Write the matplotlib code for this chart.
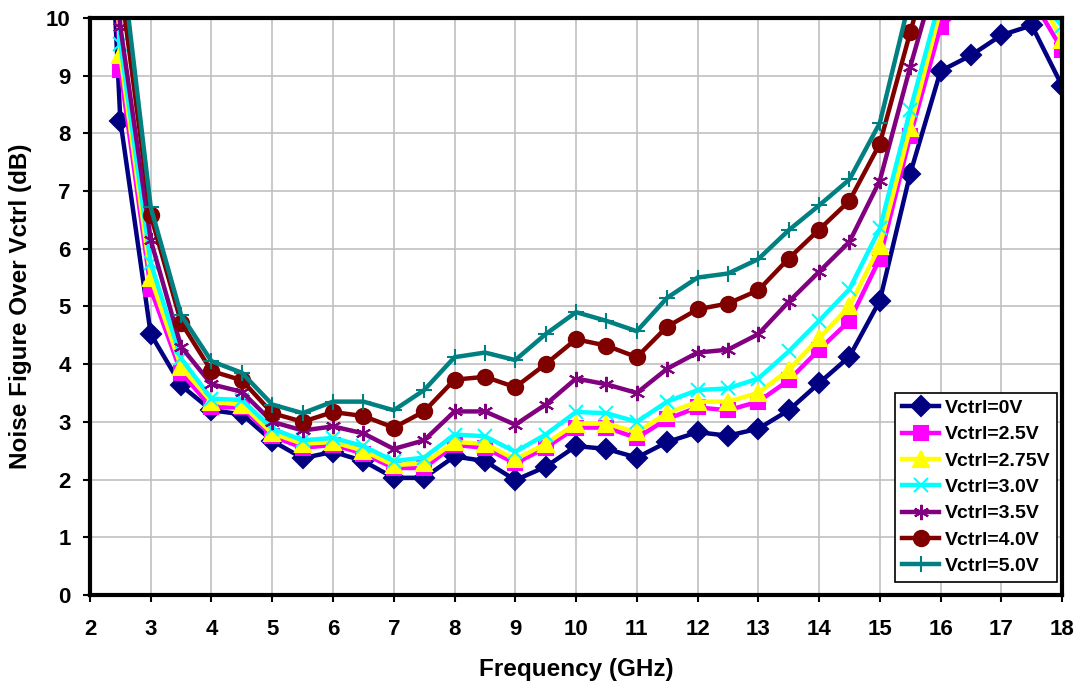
import matplotlib
matplotlib.use("Agg")
import matplotlib.pyplot as plt
import numpy as np

plt.rcParams['font.family'] = ['Liberation Sans', 'DejaVu Sans']

freq = [2.0, 2.5, 3.0, 3.5, 4.0, 4.5, 5.0, 5.5, 6.0, 6.5, 7.0, 7.5, 8.0, 8.5, 9.0, 9.5,
        10.0, 10.5, 11.0, 11.5, 12.0, 12.5, 13.0, 13.5, 14.0, 14.5, 15.0, 15.5,
        16.0, 16.5, 17.0, 17.5, 18.0]

nf_0v = [19.0, 8.22, 4.52, 3.63, 3.20, 3.13, 2.67, 2.37, 2.48, 2.32, 2.03, 2.03, 2.40, 2.32,
         1.99, 2.22, 2.58, 2.53, 2.38, 2.65, 2.82, 2.76, 2.88, 3.20, 3.67, 4.13, 5.10,
         7.30, 9.08, 9.35, 9.70, 9.87, 8.82]
nf_2p5v = [20.0, 9.10, 5.30, 3.85, 3.25, 3.25, 2.75, 2.55, 2.60, 2.45, 2.20, 2.20, 2.60, 2.55,
           2.28, 2.55, 2.90, 2.90, 2.72, 3.05, 3.25, 3.20, 3.35, 3.72, 4.25, 4.75, 5.83,
           7.95, 9.85, 10.30, 10.50, 10.34, 9.45]
nf_2p75v = [20.0, 9.35, 5.50, 3.95, 3.35, 3.30, 2.80, 2.62, 2.65, 2.50, 2.25, 2.28, 2.65, 2.62,
            2.35, 2.62, 2.97, 2.97, 2.82, 3.15, 3.35, 3.35, 3.50, 3.90, 4.45, 5.00, 6.05,
            8.10, 10.15, 10.60, 10.80, 10.57, 9.62]
nf_3p0v = [21.0, 9.55, 5.75, 4.10, 3.40, 3.38, 2.88, 2.68, 2.72, 2.58, 2.32, 2.38, 2.78, 2.75,
           2.48, 2.78, 3.17, 3.15, 3.00, 3.35, 3.55, 3.58, 3.75, 4.22, 4.75, 5.30, 6.35,
           8.40, 10.35, 10.80, 11.00, 10.47, 9.86]
nf_3p5v = [21.0, 9.85, 6.15, 4.30, 3.65, 3.52, 3.00, 2.85, 2.92, 2.80, 2.53, 2.68, 3.18, 3.18,
           2.95, 3.30, 3.75, 3.65, 3.50, 3.92, 4.20, 4.25, 4.52, 5.08, 5.60, 6.12, 7.18,
           9.15, 11.00, 11.50, 11.80, 11.60, 10.80]
nf_4p0v = [22.0, 10.60, 6.58, 4.72, 3.88, 3.72, 3.15, 3.00, 3.17, 3.10, 2.90, 3.18, 3.73, 3.78,
           3.60, 4.00, 4.43, 4.32, 4.12, 4.65, 4.95, 5.05, 5.28, 5.83, 6.33, 6.83, 7.82,
           9.75, 11.60, 12.00, 12.30, 12.10, 11.20]
nf_5p0v = [22.0, 11.20, 6.72, 4.85, 4.05, 3.85, 3.30, 3.15, 3.35, 3.35, 3.20, 3.55, 4.12, 4.20,
           4.07, 4.52, 4.90, 4.75, 4.57, 5.15, 5.50, 5.57, 5.82, 6.32, 6.75, 7.20, 8.18,
           10.35, 12.20, 12.60, 12.80, 12.60, 11.60]

labels = ['Vctrl=0V', 'Vctrl=2.5V', 'Vctrl=2.75V', 'Vctrl=3.0V', 'Vctrl=3.5V', 'Vctrl=4.0V', 'Vctrl=5.0V']
series = [nf_0v, nf_2p5v, nf_2p75v, nf_3p0v, nf_3p5v, nf_4p0v, nf_5p0v]
colors = ['#000080', '#FF00FF', '#FFFF00', '#00FFFF', '#800080', '#800000', '#008080']
markers = ['D', 's', '^', 'x', (6, 2, 0), 'o', '+']
msizes = [10.5, 10, 11, 10, 11, 11, 11]

fig = plt.figure(figsize=(10.88, 6.87), dpi=100)
ax = fig.add_axes([0.0827, 0.134, 0.8935, 0.840])

for y, lab, c, m, ms in zip(series, labels, colors, markers, msizes):
    ax.plot(freq, y, color=c, lw=3.2, marker=m, markersize=ms,
            markeredgewidth=1.5, markerfacecolor=c, markeredgecolor=c, label=lab,
            clip_on=True)

ax.set_xlim(2, 18)
ax.set_ylim(0, 10)
ax.set_xticks(np.arange(2, 19, 1))
ax.set_yticks(np.arange(0, 11, 1))
ax.grid(True, color='#c0c0c0', lw=1.2)
ax.set_axisbelow(True)
for s in ax.spines.values():
    s.set_linewidth(3)
    s.set_color('black')
ax.tick_params(axis='both', labelsize=16, width=1.5, length=5, direction='out')
ax.tick_params(axis='x', pad=12)
ax.tick_params(axis='y', pad=9)
for t in ax.get_xticklabels() + ax.get_yticklabels():
    t.set_fontweight('bold')
ax.set_xlabel('Frequency (GHz)', fontsize=17.5, fontweight='bold')
ax.set_ylabel('Noise Figure Over Vctrl (dB)', fontsize=17.5, fontweight='bold')
ax.xaxis.set_label_coords(0.5, -0.11)
ax.yaxis.set_label_coords(-0.06, 0.5)

leg = ax.legend(loc='lower right', bbox_to_anchor=(0.995, 0.0225), fancybox=False,
                framealpha=1, edgecolor='black', prop={'weight': 'bold', 'size': 14},
                handlelength=1.9, labelspacing=0.45, borderpad=0.35, handletextpad=0.3,
                borderaxespad=0)
leg.get_frame().set_linewidth(1.2)

fig.savefig('out.png', dpi=100)
